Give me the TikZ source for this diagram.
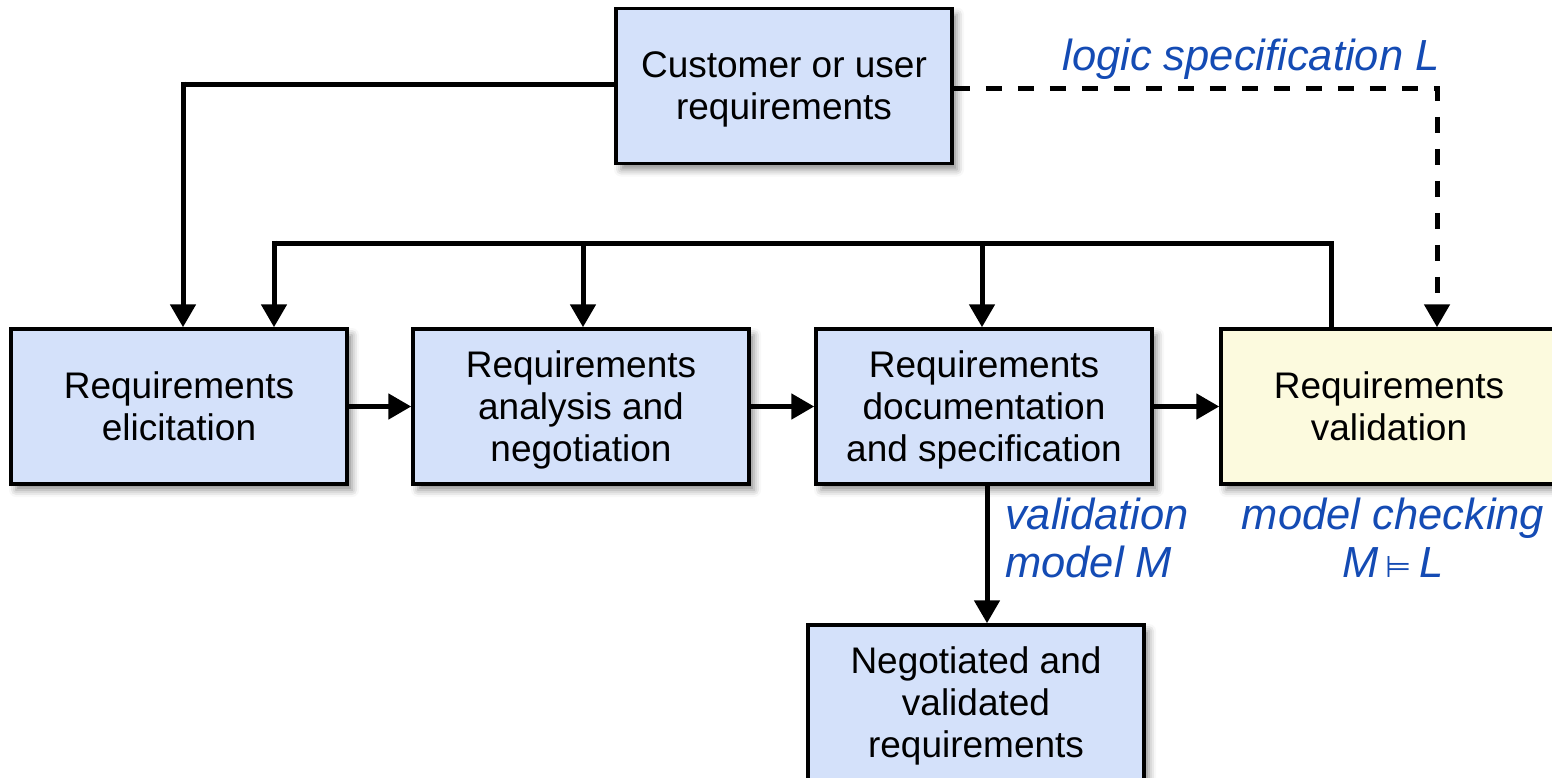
\documentclass[tikz,border=0pt]{standalone}
\usepackage{fontspec}
\setmainfont{Liberation Sans}
\newfontfamily\symfont{DejaVu Sans}
\usetikzlibrary{arrows.meta,shadows.blur,calc}

\definecolor{boxblue}{RGB}{212,225,250}
\definecolor{boxyellow}{RGB}{252,250,222}
\definecolor{labelblue}{RGB}{20,75,180}

\begin{document}
\begin{tikzpicture}[x=1pt,y=-1pt,
  box/.style={draw=black, line width=3.5pt, fill=boxblue,
    minimum width=336pt, minimum height=155pt, align=center, inner sep=0pt,
    text depth=0pt, font=\fontsize{37}{42}\selectfont,
    blur shadow={shadow xshift=5pt, shadow yshift=-6pt, shadow blur radius=7pt, shadow opacity=45}},
  flow/.style={line width=5pt, -{Triangle[length=23pt,width=25pt]}},
  plain/.style={line width=5pt},
  lbl/.style={text=labelblue, font=\fontsize{43.5}{48}\selectfont\itshape, inner sep=0pt}
]
\useasboundingbox (0,0) rectangle (1552,777);

% process boxes
\node[box] (cust) at (784,86) {Customer or user\\requirements};
\node[box] (elic) at (179,406.5) {Requirements\\elicitation};
\node[box] (anal) at (581,406.5) {Requirements\\analysis and\\negotiation};
\node[box] (docu) at (984,406.5) {Requirements\\documentation\\and specification};
\node[box, fill=boxyellow] (vali) at (1389,406.5) {Requirements\\validation};
\node[box] (nego) at (976,702.5) {Negotiated and\\validated\\requirements};

% customer input to elicitation
\coordinate (c1) at (183,84);
\draw[plain] (cust.west |- c1) -- ($(c1)+(-2.5,0)$);
\draw[flow] ($(c1)+(0,-2.5)$) -- (c1 |- elic.north);

% feedback loop from validation
\coordinate (fbstart) at (1331,329);
\coordinate (fbtop) at (1331,243);
\coordinate (fbleft) at (274,243);
\coordinate (fbA) at (583,243);
\coordinate (fbD) at (982,243);
\draw[plain] (fbstart) -- (fbtop) -- ($(fbleft)+(-2.5,0)$);
\draw[flow] ($(fbleft)+(0,-2.5)$) -- (fbleft |- elic.north);
\draw[flow] (fbA) -- (fbA |- anal.north);
\draw[flow] (fbD) -- (fbD |- docu.north);

% main chain
\draw[flow] (elic.east) -- (anal.west);
\draw[flow] (anal.east) -- (docu.west);
\draw[flow] (docu.east) -- (vali.west);

% documentation to result
\coordinate (d1) at (987,484);
\draw[flow] (d1) -- (d1 |- nego.north);

% logic specification path
\coordinate (s1) at (1437,88);
\draw[line width=5pt, dash pattern=on 16pt off 16pt, -{Triangle[length=23pt,width=25pt]}]
  (cust.east |- s1) -- (s1) -- (s1 |- vali.north);

% labels
\node[lbl, anchor=base] (lspec) at (1251,70) {logic specification L};
\node[lbl, anchor=north west, align=left] (lmodel) at (1005,498) {validation\\model M};
\node[lbl, anchor=north, align=center] (lcheck) at (1393,498) {model checking\\M\,{\upshape\symfont\fontsize{30}{48}\selectfont ⊨}\,L};
\end{tikzpicture}
\end{document}
